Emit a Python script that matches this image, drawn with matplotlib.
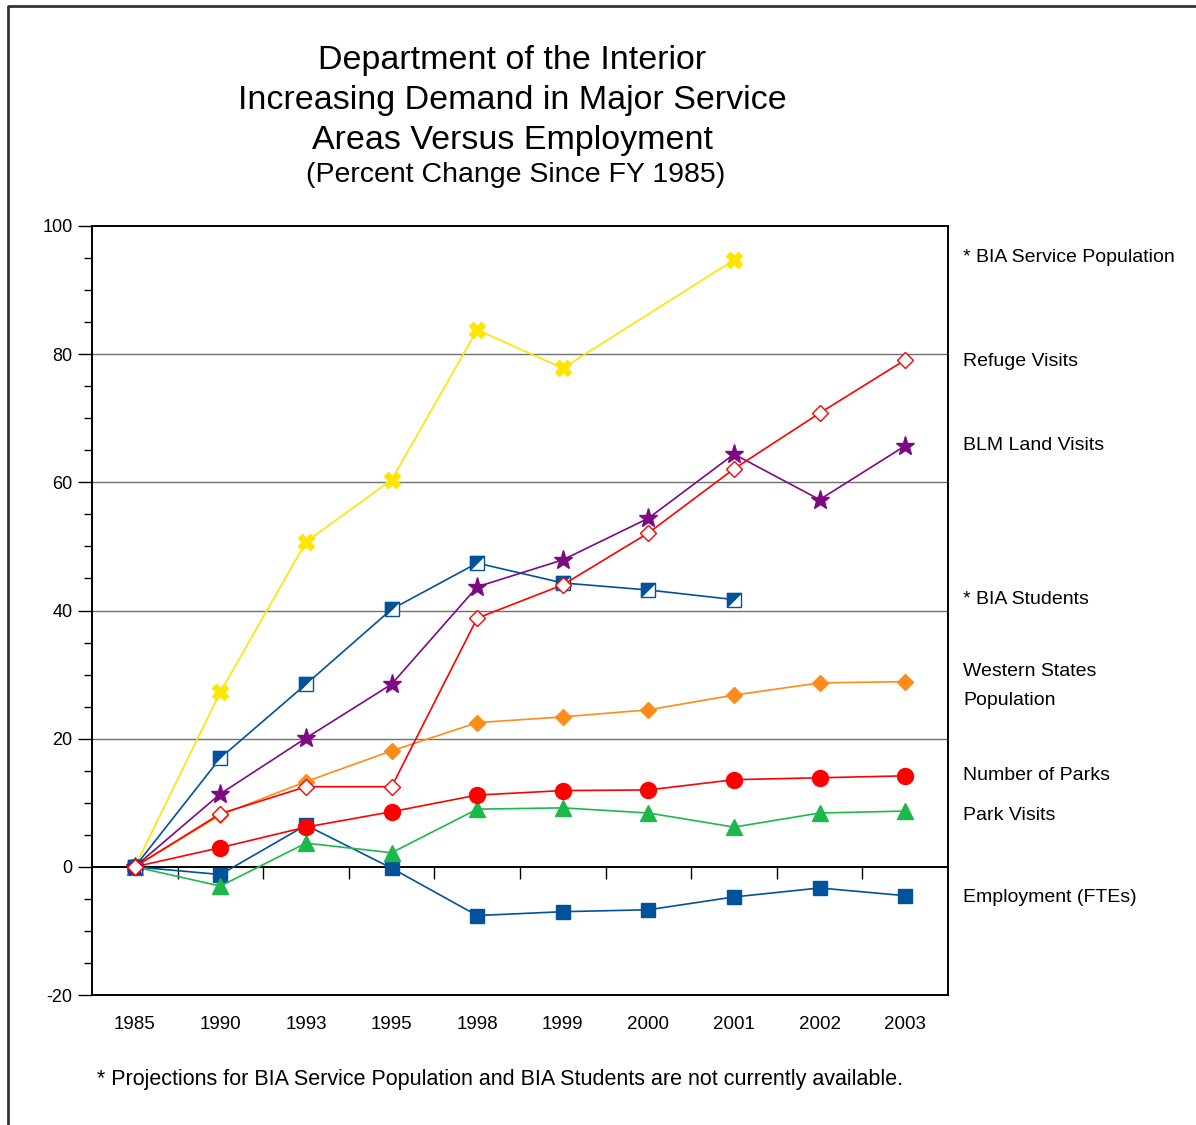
import matplotlib
matplotlib.use("Agg")
import matplotlib.pyplot as plt
from matplotlib.lines import Line2D
import numpy as np

plt.rcParams['font.family'] = ['Liberation Sans', 'DejaVu Sans']
plt.rcParams['axes.unicode_minus'] = False

years = ['1985', '1990', '1993', '1995', '1998', '1999', '2000', '2001', '2002', '2003']

# percent change since FY 1985 (None = not available)
bia_service_pop = [0, 27.3, 50.7, 60.4, 83.8, 77.8, None, 94.7, None, None]
refuge_visits = [0, 8.3, 12.5, 12.5, 38.8, 44.0, 52.1, 62.1, 70.8, 79.1]
blm_land_visits = [0, 11.4, 20.1, 28.5, 43.7, 47.9, 54.4, 64.4, 57.3, 65.7]
bia_students = [0, 17.0, 28.5, 40.2, 47.4, 44.3, 43.2, 41.7, None, None]
western_states_pop = [0, 8.1, 13.3, 18.1, 22.5, 23.4, 24.5, 26.8, 28.7, 28.9]
number_of_parks = [0, 3.0, 6.2, 8.6, 11.2, 11.9, 12.0, 13.6, 13.9, 14.2]
park_visits = [0, -3.0, 3.7, 2.2, 9.0, 9.2, 8.4, 6.2, 8.4, 8.7]
employment = [0, -1.2, 6.5, -0.2, -7.6, -7.0, -6.7, -4.7, -3.3, -4.5]

right_labels = ['* BIA Service Population', 'Refuge Visits', 'BLM Land Visits',
                '* BIA Students', 'Western States\nPopulation', 'Number of Parks',
                'Park Visits', 'Employment (FTEs)']
label_y = [257, 361, 446, 599, 686, 775, 815, 898]  # pixel rows in the figure

W, H = 1196, 1125
fig = plt.figure(figsize=(W / 100, H / 100), dpi=100)
ax = fig.add_axes([92 / W, 1 - 995 / H, (948 - 92) / W, (995 - 226) / H])


def pts(vals):
    x = [i for i, v in enumerate(vals) if v is not None]
    y = [v for v in vals if v is not None]
    return x, y


half_sq = [(-1, -1), (-1, 1), (1, 1), (-1, -1)]
BLUE = '#00529b'

x, y = pts(bia_service_pop)
ax.plot(x, y, color='#ffe500', lw=1.2, marker='X', ms=12, mec='#ffe500', mfc='#ffe500', zorder=3)
x, y = pts(employment)
ax.plot(x, y, color=BLUE, lw=1.2, marker='s', ms=10.5, mec=BLUE, mfc=BLUE, zorder=3)
x, y = pts(park_visits)
ax.plot(x, y, color='#1db84a', lw=1.2, marker='^', ms=11.5, mec='#1db84a', zorder=3)
x, y = pts(number_of_parks)
ax.plot(x, y, color='#ff0000', lw=1.2, marker='o', ms=11.5, mec='#ff0000', zorder=3)
x, y = pts(western_states_pop)
ax.plot(x, y, color='#ff8c1a', lw=1.2, marker='D', ms=8.5, mec='#ff8c1a', zorder=3)
x, y = pts(bia_students)
ax.plot(x, y, color=BLUE, lw=1.2, marker='s', ms=10.5, mec=BLUE, mfc='white', zorder=3)
ax.plot(x, y, color=BLUE, lw=0, marker=half_sq, ms=10.5, mec=BLUE, mfc=BLUE, mew=0.5, zorder=3)
x, y = pts(blm_land_visits)
ax.plot(x, y, color='#7d0a82', lw=1.2, marker='*', ms=14, mec='#7d0a82', zorder=3)
x, y = pts(refuge_visits)
ax.plot(x, y, color='#ff0000', lw=1.2, marker='D', ms=8.5, mec='#ff0000', mfc='white', mew=1.0, zorder=3)

ax.set_xlim(-0.5, len(years) - 0.5)
ax.set_ylim(-20, 100)
ax.set_xticks(range(len(years)))
ax.set_xticklabels(years, fontsize=13.5)
ax.tick_params(axis='x', length=0, pad=15)
ax.set_yticks(range(-20, 101, 20))
ax.set_yticks(range(-20, 101, 5), minor=True)
ax.tick_params(axis='y', which='major', length=10, width=1, labelsize=13, pad=4)
ax.tick_params(axis='y', which='minor', length=6, width=1)

for g in [20, 40, 60, 80]:
    ax.axhline(g, color='#707070', lw=1, zorder=1)
ax.axhline(0, color='black', lw=1.4, zorder=2)
ax.vlines(np.arange(0.5, len(years) - 1, 1), -1.9, 0, color='black', lw=1, zorder=2)

for s in ax.spines.values():
    s.set_linewidth(1.4)

for lab, py in zip(right_labels, label_y):
    fig.text(963 / W, 1 - py / H, lab, fontsize=14, ha='left', va='center', linespacing=1.9)

title_lines = ['Department of the Interior', 'Increasing Demand in Major Service',
               'Areas Versus Employment']
for t, py in zip(title_lines, [61, 101, 140]):
    fig.text(512 / W, 1 - py / H, t, fontsize=24.5, ha='center', va='center')
fig.text(516 / W, 1 - 175 / H, '(Percent Change Since FY 1985)', fontsize=20.5, ha='center', va='center')

fig.text(97 / W, 1 - 1080 / H,
         '* Projections for BIA Service Population and BIA Students are not currently available.',
         fontsize=15.5, ha='left', va='center')

fig.add_artist(Line2D([8 / W, 8 / W, 1.0], [0.0, 1 - 6 / H, 1 - 6 / H], color='#333333', lw=2,
                      transform=fig.transFigure))

fig.savefig('out.png', dpi=100)
